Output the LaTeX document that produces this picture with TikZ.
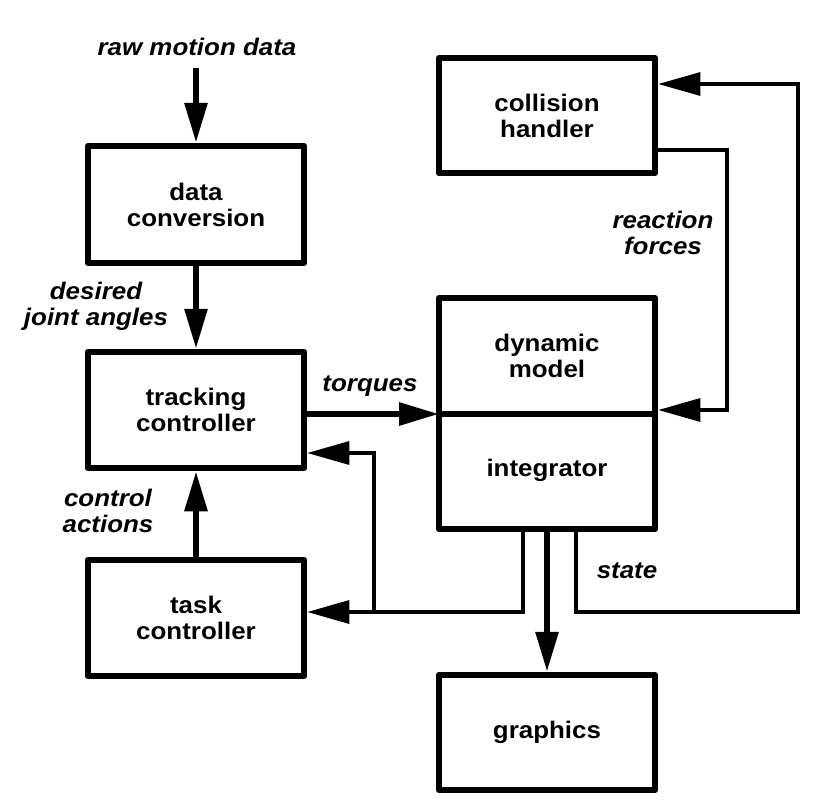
\documentclass[tikz,border=0pt]{standalone}
\usepackage{fontspec}
\setmainfont{Liberation Sans}[FakeStretch=1.08]
\usetikzlibrary{arrows.meta}
\begin{document}
\begin{tikzpicture}[x=1pt,y=-1pt,
  box/.style={draw,line width=6.5pt,line join=round,minimum width=216pt,align=center,
    font=\bfseries\fontsize{24}{26}\selectfont},
  txt/.style={align=center,font=\bfseries\fontsize{24}{26}\selectfont,inner sep=0pt},
  lbl/.style={align=center,font=\bfseries\itshape\fontsize{24}{26}\selectfont,inner sep=0pt},
  thickarrow/.style={line width=6pt,-{Triangle[length=40pt,width=22pt]}},
  thinarrow/.style={line width=3.2pt,line join=miter,-{Triangle[length=42pt,width=23pt]}},
  thinline/.style={line width=3.2pt,line join=miter}]
\useasboundingbox (0,0) rectangle (825,807);
% boxes
\node[box,minimum height=117pt] (conv) at (196,204.5) {data\\conversion};
\node[box,minimum height=116pt] (track) at (196,410) {tracking\\controller};
\node[box,minimum height=116pt] (task) at (196,618) {task\\controller};
\node[box,minimum height=115pt] (coll) at (547,115.5) {collision\\handler};
\node[box,minimum height=231pt] (dyn) at (547,413.5) {};
\node[box,minimum height=115pt] (gfx) at (547,732.5) {graphics};
\node[txt] (dynm) at (547,356) {dynamic\\model};
\node[txt] (integ) at (547,470) {integrator};
% coordinates
\coordinate (divL) at (439,414);
\coordinate (divR) at (655,414);
\draw[line width=6.5pt] (divL) -- (divR);
\coordinate (rawtop) at (196,68);
\coordinate (fb1) at (523,612);
\coordinate (br1) at (374,612);
\coordinate (br2) at (374,453);
\coordinate (st1) at (576,612);
\coordinate (st2) at (798,612);
\coordinate (st3) at (798,84);
\coordinate (rf1) at (727,150);
\coordinate (rf2) at (727,410);
% labels
\node[lbl] (raw) at (197,47) {raw motion data};
\node[lbl] (dja) at (96,306) {desired\\joint angles};
\node[lbl] (ca) at (108,511) {control\\actions};
\node[lbl] (tq) at (370,386) {torques};
\node[lbl] (rf) at (663,233) {reaction\\forces};
\node[lbl] (st) at (627,571) {state};
% thick arrows
\draw[thickarrow] (rawtop) -- (conv.north);
\draw[thickarrow] (conv.south) -- (track.north);
\draw[thickarrow] (task.north) -- (track.south);
\draw[thickarrow] (track.east |- divL) -- (divL);
\draw[thickarrow] (dyn.south -| gfx.north) -- (gfx.north);
% thin feedback
\draw[thinarrow] (dyn.south -| fb1) -- (fb1) -- (fb1 -| task.east);
\draw[thinarrow] (br1) -- (br2) -- (br2 -| track.east);
\draw[thinarrow] (dyn.south -| st1) -- (st1) -- (st2) -- (st3) -- (st3 -| coll.east);
\draw[thinarrow] (rf1 -| coll.east) -- (rf1) -- (rf2) -- (rf2 -| dyn.east);
\end{tikzpicture}
\end{document}
